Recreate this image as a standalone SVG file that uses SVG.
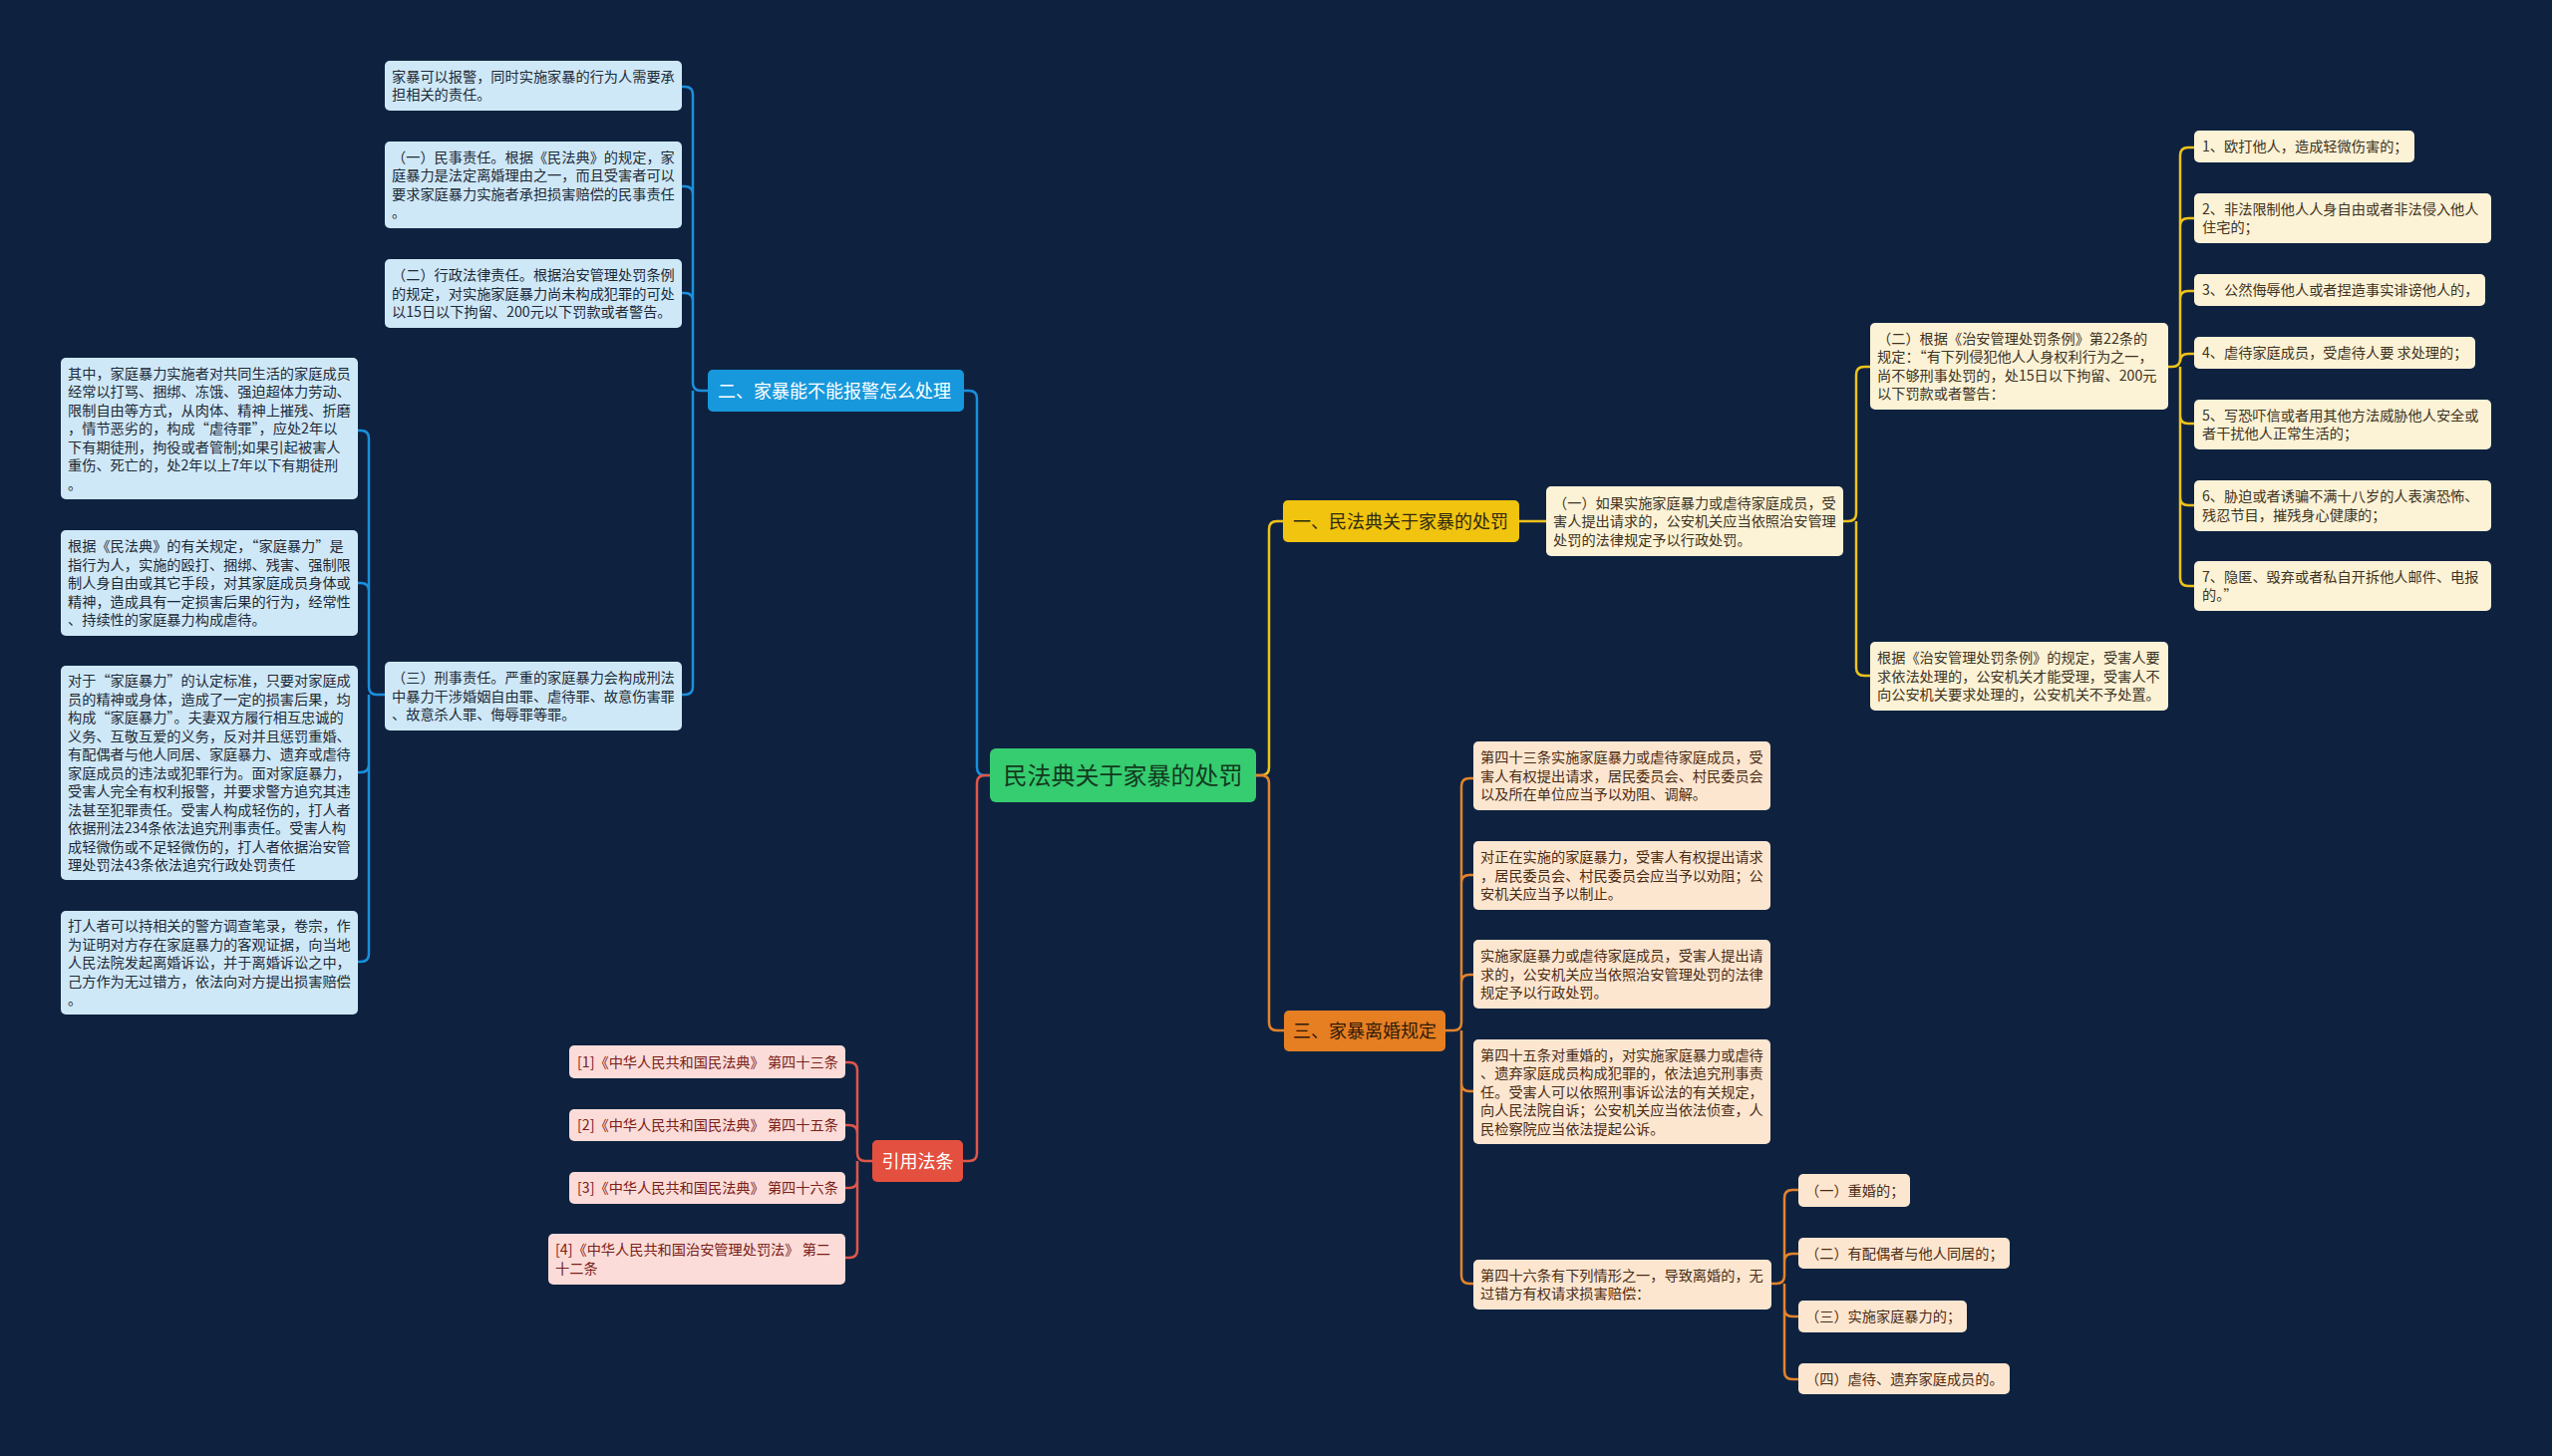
<svg xmlns="http://www.w3.org/2000/svg" width="2560" height="1461" viewBox="0 0 2560 1461">
<style>
text{font-family:"Noto Sans CJK SC","Noto Sans",sans-serif}
.t{font-size:14.2px}
.h{font-size:18px}
.cb rect{fill:#cfe8f7}.cb text{fill:#1d2a38}
.cy rect{fill:#fcf2d6}.cy text{fill:#3d3322}
.co rect{fill:#fde6d0}.co text{fill:#4a2c14}
.cr rect{fill:#fbdcd8}.cr text{fill:#7a2018}
.lb{fill:none;stroke:#1c8fdb;stroke-width:2.5}
.ly{fill:none;stroke:#eec21a;stroke-width:2.5}
.lo{fill:none;stroke:#e3832c;stroke-width:2.5}
.lr{fill:none;stroke:#e0564a;stroke-width:2.5}
</style>
<rect width="2560" height="1461" fill="#0e2240"/>
<g id="connectors">
<path class="lb" d="M993 778H988Q980 778 980 770V400Q980 392 972 392H967"/>
<path class="lr" d="M993 778H988Q980 778 980 786V1157Q980 1165 972 1165H966"/>
<path class="ly" d="M1260 778H1265Q1273 778 1273 770V531Q1273 523 1281 523H1287"/>
<path class="lo" d="M1260 778H1265Q1273 778 1273 786V1026Q1273 1034 1281 1034H1288"/>
<path class="lb" d="M710 392H703Q695 392 695 384V95Q695 87 687 87H684M695 384V195Q695 187 687 187H684M695 384V302Q695 294 687 294H684M695 392V689Q695 697 687 697H684"/>
<path class="lb" d="M386 697H378Q370 697 370 689V440Q370 432 362 432H359M370 689V593Q370 585 362 585H359M370 697V767Q370 775 362 775H359M370 697V957Q370 965 362 965H359"/>
<path class="lr" d="M875 1165H868Q860 1165 860 1157V1074Q860 1066 852 1066H848M860 1157V1137Q860 1129 852 1129H848M860 1165V1184Q860 1192 852 1192H848M860 1165V1254Q860 1262 852 1262H848"/>
<path class="ly" d="M1524 523H1551"/>
<path class="ly" d="M1849 523H1854Q1862 523 1862 515V376Q1862 368 1870 368H1876M1862 523V670Q1862 678 1870 678H1876"/>
<path class="ly" d="M2175 368H2179Q2187 368 2187 360V156Q2187 148 2195 148H2201M2187 360V227Q2187 219 2195 219H2201M2187 360V300Q2187 292 2195 292H2201M2187 360V363Q2187 355 2195 355H2201M2187 368V417Q2187 425 2195 425H2201M2187 368V499Q2187 507 2195 507H2201M2187 368V580Q2187 588 2195 588H2201"/>
<path class="lo" d="M1450 1034H1458Q1466 1034 1466 1026V789Q1466 781 1474 781H1478M1466 1026V886Q1466 878 1474 878H1478M1466 1026V986Q1466 978 1474 978H1478M1466 1034V1087Q1466 1095 1474 1095H1478M1466 1034V1280Q1466 1288 1474 1288H1478"/>
<path class="lo" d="M1777 1288H1782Q1790 1288 1790 1280V1202Q1790 1194 1798 1194H1804M1790 1280V1266Q1790 1258 1798 1258H1804M1790 1288V1313Q1790 1321 1798 1321H1804M1790 1288V1376Q1790 1384 1798 1384H1804"/>
</g>
<g id="root"><rect x="993" y="751" width="267" height="54" rx="6" fill="#36cc70"/><text x="1126.5" y="786.6" font-size="24" text-anchor="middle" fill="#123a1e">民法典关于家暴的处罚</text></g>
<g id="b2"><rect x="710" y="371" width="257" height="42" rx="5" fill="#1798dc"/><text class="h" x="720" y="398.5" fill="#ffffff">二、家暴能不能报警怎么处理</text></g>
<g id="b1"><rect x="1287" y="502" width="237" height="42" rx="5" fill="#f1c40f"/><text class="h" x="1297" y="529.5" fill="#2e2a10">一、民法典关于家暴的处罚</text></g>
<g id="b3"><rect x="1288" y="1014" width="162" height="41" rx="5" fill="#e67e22"/><text class="h" x="1297" y="1041" fill="#2e1a08">三、家暴离婚规定</text></g>
<g id="b4"><rect x="875" y="1144" width="91" height="42" rx="5" fill="#e4503f"/><text class="h" x="920.5" y="1171.5" text-anchor="middle" fill="#ffffff">引用法条</text></g>

<g id="n-b1" class="cb"><rect x="386" y="61" width="298" height="50" rx="5"/><text class="t"><tspan x="393" y="81.75">家暴可以报警，同时实施家暴的行为人需要承</tspan><tspan x="393" y="100.25">担相关的责任。</tspan></text></g>
<g id="n-b2" class="cb"><rect x="386" y="142" width="298" height="87" rx="5"/><text class="t"><tspan x="393" y="162.75">（一）民事责任。根据《民法典》的规定，家</tspan><tspan x="393" y="181.25">庭暴力是法定离婚理由之一，而且受害者可以</tspan><tspan x="393" y="199.75">要求家庭暴力实施者承担损害赔偿的民事责任</tspan><tspan x="393" y="218.25">。</tspan></text></g>
<g id="n-b3" class="cb"><rect x="386" y="260" width="298" height="69" rx="5"/><text class="t"><tspan x="393" y="281">（二）行政法律责任。根据治安管理处罚条例</tspan><tspan x="393" y="299.5">的规定，对实施家庭暴力尚未构成犯罪的可处</tspan><tspan x="393" y="318">以15日以下拘留、200元以下罚款或者警告。</tspan></text></g>
<g id="n-b4" class="cb"><rect x="386" y="664" width="298" height="69" rx="5"/><text class="t"><tspan x="393" y="685">（三）刑事责任。严重的家庭暴力会构成刑法</tspan><tspan x="393" y="703.5">中暴力干涉婚姻自由罪、虐待罪、故意伤害罪</tspan><tspan x="393" y="722">、故意杀人罪、侮辱罪等罪。</tspan></text></g>

<g id="n-l1" class="cb"><rect x="61" y="359" width="298" height="142" rx="5"/><text class="t"><tspan x="68" y="379.5">其中，家庭暴力实施者对共同生活的家庭成员</tspan><tspan x="68" y="398">经常以打骂、捆绑、冻饿、强迫超体力劳动、</tspan><tspan x="68" y="416.5">限制自由等方式，从肉体、精神上摧残、折磨</tspan><tspan x="68" y="435">，情节恶劣的，构成“虐待罪”，应处2年以</tspan><tspan x="68" y="453.5">下有期徒刑，拘役或者管制;如果引起被害人</tspan><tspan x="68" y="472">重伤、死亡的，处2年以上7年以下有期徒刑</tspan><tspan x="68" y="490.5">。</tspan></text></g>
<g id="n-l2" class="cb"><rect x="61" y="532" width="298" height="106" rx="5"/><text class="t"><tspan x="68" y="553">根据《民法典》的有关规定，“家庭暴力”是</tspan><tspan x="68" y="571.5">指行为人，实施的殴打、捆绑、残害、强制限</tspan><tspan x="68" y="590">制人身自由或其它手段，对其家庭成员身体或</tspan><tspan x="68" y="608.5">精神，造成具有一定损害后果的行为，经常性</tspan><tspan x="68" y="627">、持续性的家庭暴力构成虐待。</tspan></text></g>
<g id="n-l3" class="cb"><rect x="61" y="668" width="298" height="215" rx="5"/><text class="t"><tspan x="68" y="688">对于“家庭暴力”的认定标准，只要对家庭成</tspan><tspan x="68" y="706.5">员的精神或身体，造成了一定的损害后果，均</tspan><tspan x="68" y="725">构成“家庭暴力”。夫妻双方履行相互忠诚的</tspan><tspan x="68" y="743.5">义务、互敬互爱的义务，反对并且惩罚重婚、</tspan><tspan x="68" y="762">有配偶者与他人同居、家庭暴力、遗弃或虐待</tspan><tspan x="68" y="780.5">家庭成员的违法或犯罪行为。面对家庭暴力，</tspan><tspan x="68" y="799">受害人完全有权利报警，并要求警方追究其违</tspan><tspan x="68" y="817.5">法甚至犯罪责任。受害人构成轻伤的，打人者</tspan><tspan x="68" y="836">依据刑法234条依法追究刑事责任。受害人构</tspan><tspan x="68" y="854.5">成轻微伤或不足轻微伤的，打人者依据治安管</tspan><tspan x="68" y="873">理处罚法43条依法追究行政处罚责任</tspan></text></g>
<g id="n-l4" class="cb"><rect x="61" y="914" width="298" height="104" rx="5"/><text class="t"><tspan x="68" y="934">打人者可以持相关的警方调查笔录，卷宗，作</tspan><tspan x="68" y="952.5">为证明对方存在家庭暴力的客观证据，向当地</tspan><tspan x="68" y="971">人民法院发起离婚诉讼，并于离婚诉讼之中，</tspan><tspan x="68" y="989.5">己方作为无过错方，依法向对方提出损害赔偿</tspan><tspan x="68" y="1008">。</tspan></text></g>

<g id="n-r1" class="cr"><rect x="571" y="1049" width="277" height="33" rx="5"/><text class="t" x="579" y="1070.5">[1]《中华人民共和国民法典》 第四十三条</text></g>
<g id="n-r2" class="cr"><rect x="571" y="1113" width="277" height="32" rx="5"/><text class="t" x="579" y="1134">[2]《中华人民共和国民法典》 第四十五条</text></g>
<g id="n-r3" class="cr"><rect x="571" y="1176" width="277" height="32" rx="5"/><text class="t" x="579" y="1197">[3]《中华人民共和国民法典》 第四十六条</text></g>
<g id="n-r4" class="cr"><rect x="550" y="1238" width="298" height="51" rx="5"/><text class="t"><tspan x="557" y="1259.25">[4]《中华人民共和国治安管理处罚法》 第二</tspan><tspan x="557" y="1277.75">十二条</tspan></text></g>

<g id="n-y1" class="cy"><rect x="1551" y="488" width="298" height="70" rx="5"/><text class="t"><tspan x="1558" y="509.5">（一）如果实施家庭暴力或虐待家庭成员，受</tspan><tspan x="1558" y="528">害人提出请求的，公安机关应当依照治安管理</tspan><tspan x="1558" y="546.5">处罚的法律规定予以行政处罚。</tspan></text></g>
<g id="n-y2" class="cy"><rect x="1876" y="324" width="299" height="87" rx="5"/><text class="t"><tspan x="1883" y="344.75">（二）根据《治安管理处罚条例》第22条的</tspan><tspan x="1883" y="363.25">规定：“有下列侵犯他人人身权利行为之一，</tspan><tspan x="1883" y="381.75">尚不够刑事处罚的，处15日以下拘留、200元</tspan><tspan x="1883" y="400.25">以下罚款或者警告：</tspan></text></g>
<g id="n-y3" class="cy"><rect x="1876" y="644" width="299" height="69" rx="5"/><text class="t"><tspan x="1883" y="665">根据《治安管理处罚条例》的规定，受害人要</tspan><tspan x="1883" y="683.5">求依法处理的，公安机关才能受理，受害人不</tspan><tspan x="1883" y="702">向公安机关要求处理的，公安机关不予处置。</tspan></text></g>
<g id="n-i1" class="cy"><rect x="2201" y="131" width="221" height="32" rx="5"/><text class="t" x="2209" y="152">1、欧打他人，造成轻微伤害的；</text></g>
<g id="n-i2" class="cy"><rect x="2201" y="194" width="298" height="50" rx="5"/><text class="t"><tspan x="2209" y="214.75">2、非法限制他人人身自由或者非法侵入他人</tspan><tspan x="2209" y="233.25">住宅的；</tspan></text></g>
<g id="n-i3" class="cy"><rect x="2201" y="275" width="292" height="32" rx="5"/><text class="t" x="2209" y="296">3、公然侮辱他人或者捏造事实诽谤他人的，</text></g>
<g id="n-i4" class="cy"><rect x="2201" y="338" width="282" height="32" rx="5"/><text class="t" x="2209" y="359">4、虐待家庭成员，受虐待人要 求处理的；</text></g>
<g id="n-i5" class="cy"><rect x="2201" y="401" width="298" height="50" rx="5"/><text class="t"><tspan x="2209" y="421.75">5、写恐吓信或者用其他方法威胁他人安全或</tspan><tspan x="2209" y="440.25">者干扰他人正常生活的；</tspan></text></g>
<g id="n-i6" class="cy"><rect x="2201" y="482" width="298" height="51" rx="5"/><text class="t"><tspan x="2209" y="503.25">6、胁迫或者诱骗不满十八岁的人表演恐怖、</tspan><tspan x="2209" y="521.75">残忍节目，摧残身心健康的；</tspan></text></g>
<g id="n-i7" class="cy"><rect x="2201" y="563" width="298" height="50" rx="5"/><text class="t"><tspan x="2209" y="583.75">7、隐匿、毁弃或者私自开拆他人邮件、电报</tspan><tspan x="2209" y="602.25">的。”</tspan></text></g>

<g id="n-o1" class="co"><rect x="1478" y="744" width="298" height="69" rx="5"/><text class="t"><tspan x="1485" y="765">第四十三条实施家庭暴力或虐待家庭成员，受</tspan><tspan x="1485" y="783.5">害人有权提出请求，居民委员会、村民委员会</tspan><tspan x="1485" y="802">以及所在单位应当予以劝阻、调解。</tspan></text></g>
<g id="n-o2" class="co"><rect x="1478" y="844" width="298" height="69" rx="5"/><text class="t"><tspan x="1485" y="865">对正在实施的家庭暴力，受害人有权提出请求</tspan><tspan x="1485" y="883.5">，居民委员会、村民委员会应当予以劝阻；公</tspan><tspan x="1485" y="902">安机关应当予以制止。</tspan></text></g>
<g id="n-o3" class="co"><rect x="1478" y="943" width="298" height="69" rx="5"/><text class="t"><tspan x="1485" y="964">实施家庭暴力或虐待家庭成员，受害人提出请</tspan><tspan x="1485" y="982.5">求的，公安机关应当依照治安管理处罚的法律</tspan><tspan x="1485" y="1001">规定予以行政处罚。</tspan></text></g>
<g id="n-o4" class="co"><rect x="1478" y="1043" width="298" height="105" rx="5"/><text class="t"><tspan x="1485" y="1063.5">第四十五条对重婚的，对实施家庭暴力或虐待</tspan><tspan x="1485" y="1082">、遗弃家庭成员构成犯罪的，依法追究刑事责</tspan><tspan x="1485" y="1100.5">任。受害人可以依照刑事诉讼法的有关规定，</tspan><tspan x="1485" y="1119">向人民法院自诉；公安机关应当依法侦查，人</tspan><tspan x="1485" y="1137.5">民检察院应当依法提起公诉。</tspan></text></g>
<g id="n-o5" class="co"><rect x="1478" y="1264" width="299" height="50" rx="5"/><text class="t"><tspan x="1485" y="1284.75">第四十六条有下列情形之一，导致离婚的，无</tspan><tspan x="1485" y="1303.25">过错方有权请求损害赔偿：</tspan></text></g>
<g id="n-s1" class="co"><rect x="1804" y="1178" width="112" height="33" rx="5"/><text class="t" x="1811" y="1199.5">（一）重婚的；</text></g>
<g id="n-s2" class="co"><rect x="1804" y="1242" width="212" height="31" rx="5"/><text class="t" x="1811" y="1262.5">（二）有配偶者与他人同居的；</text></g>
<g id="n-s3" class="co"><rect x="1804" y="1305" width="169" height="32" rx="5"/><text class="t" x="1811" y="1326">（三）实施家庭暴力的；</text></g>
<g id="n-s4" class="co"><rect x="1804" y="1368" width="212" height="31" rx="5"/><text class="t" x="1811" y="1388.5">（四）虐待、遗弃家庭成员的。</text></g>
</svg>
